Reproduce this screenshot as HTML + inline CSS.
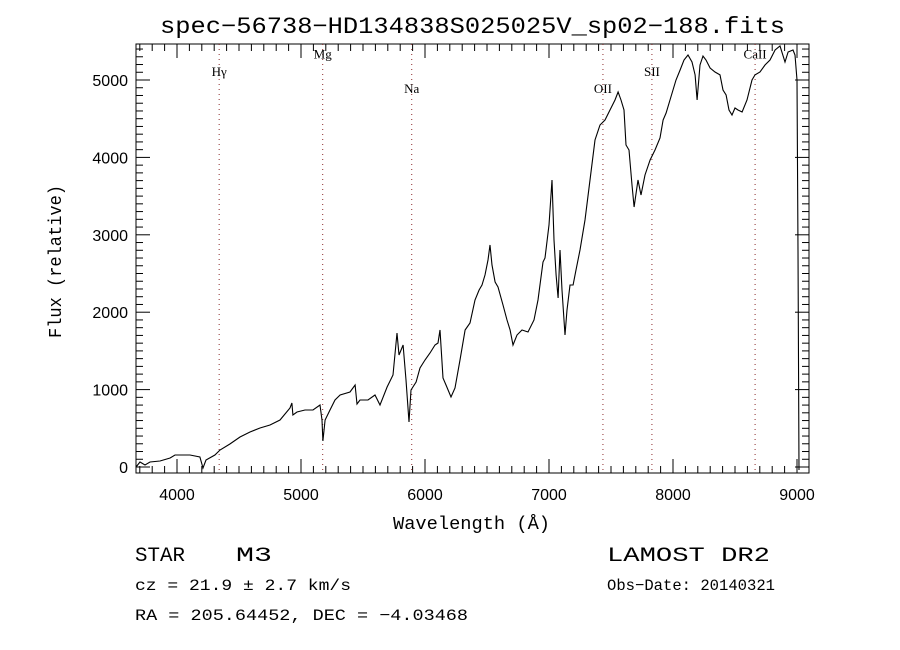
<!DOCTYPE html>
<html><head><meta charset="utf-8"><style>
body{margin:0;background:#fff;}
svg{display:block;}
.s{font-family:"Liberation Serif",serif;}
.m{font-family:"Liberation Mono",monospace;}
.t{font-family:"Liberation Sans",sans-serif;}
</style></head><body>
<svg id="c" width="900" height="650">
<text class="m" x="160" y="33" textLength="625" lengthAdjust="spacingAndGlyphs" font-size="23">spec−56738−HD134838S025025V_sp02−188.fits</text>
<rect x="136" y="44" width="673" height="429" fill="none" stroke="#000" stroke-width="1"/>
<g id="ticks"></g>
<g id="lines"></g>
<text class="m" x="393" y="529" textLength="157" lengthAdjust="spacingAndGlyphs" font-size="18">Wavelength (Å)</text>
<text class="m" transform="translate(61,338) rotate(-90)" textLength="153" lengthAdjust="spacingAndGlyphs" font-size="18">Flux (relative)</text>
<text class="m" x="135" y="561" textLength="50" lengthAdjust="spacingAndGlyphs" font-size="20">STAR</text>
<text class="m" x="236" y="561" textLength="36" lengthAdjust="spacingAndGlyphs" font-size="20">M3</text>
<text class="m" x="607" y="561" textLength="163" lengthAdjust="spacingAndGlyphs" font-size="20">LAMOST DR2</text>
<text class="m" x="135" y="590" textLength="216" lengthAdjust="spacingAndGlyphs" font-size="16">cz = 21.9 ± 2.7 km/s</text>
<text class="m" x="607" y="590" textLength="168" lengthAdjust="spacingAndGlyphs" font-size="16">Obs−Date: 20140321</text>
<text class="m" x="135" y="620" textLength="333" lengthAdjust="spacingAndGlyphs" font-size="16">RA = 205.64452, DEC =  −4.03468</text>
</svg>
<script>
const wavelengths=[3669,3702,3742,3782,3863,3944,3984,4024,4105,4185,4210,4234,4306,4347,4427,4508,4589,4669,4750,4831,4911,4927,4935,4968,5032,5097,5153,5169,5177,5194,5234,5274,5315,5395,5436,5452,5476,5540,5597,5637,5694,5742,5774,5790,5823,5847,5871,5887,5928,5960,6000,6040,6081,6105,6121,6145,6169,6210,6242,6282,6323,6363,6403,6436,6460,6484,6508,6524,6540,6565,6589,6629,6661,6686,6710,6742,6782,6831,6879,6911,6952,6968,7000,7024,7040,7057,7073,7089,7105,7129,7145,7169,7194,7218,7250,7290,7331,7371,7411,7452,7492,7532,7557,7581,7605,7621,7645,7669,7686,7694,7718,7742,7774,7815,7855,7895,7920,7944,7976,8024,8057,8089,8121,8153,8178,8194,8218,8242,8266,8299,8339,8379,8403,8428,8452,8476,8500,8524,8557,8597,8637,8661,8702,8742,8782,8823,8863,8903,8928,8968,8984,9000,9008,9016];
const fluxValues=[0,65,26,65,78,116,155,155,155,129,-13,90,155,220,297,388,452,504,543,607,762,827,672,711,736,736,801,607,336,607,736,866,930,969,1059,814,866,866,930,801,1034,1189,1731,1447,1576,1124,581,995,1098,1279,1382,1473,1576,1602,1770,1150,1059,904,1021,1382,1770,1860,2158,2287,2351,2481,2674,2868,2610,2390,2326,2093,1899,1770,1576,1705,1770,1744,1899,2158,2649,2700,3127,3708,2933,2481,2183,2804,2287,1705,2028,2351,2351,2545,2804,3191,3708,4225,4419,4483,4612,4742,4845,4742,4612,4160,4096,3643,3359,3450,3708,3514,3773,3966,4096,4251,4483,4574,4742,5000,5129,5258,5323,5233,5066,4742,5194,5310,5258,5155,5103,5066,4871,4806,4612,4548,4638,4612,4587,4742,5000,5066,5103,5194,5258,5388,5439,5233,5362,5388,5323,5000,2804,-39];
const xTickLabels=[4000,5000,6000,7000,8000,9000];
const yTickLabels=[0,1000,2000,3000,4000,5000];
const lineNames=["Hγ","Mg","Na","OII","SII","CaII"];
const lineWaves=[4340,5175,5893,7435,7830,8662];
const lineLabelFlux=[5050,5280,4830,4830,5050,5280];

const NS="http://www.w3.org/2000/svg";
const X0=136,X1=809,Y0=44,Y1=473;
function xs(w){return 177+(w-4000)*0.124;}
function ys(f){return 467-f*0.0774;}
const wMin=(X0-177)/0.124+4000, wMax=(X1-177)/0.124+4000;
const fMax=(467-Y0)/0.0774, fMin=(467-Y1)/0.0774;
function mk(tag,attrs,parent){const e=document.createElementNS(NS,tag);for(const k in attrs)e.setAttribute(k,attrs[k]);parent.appendChild(e);return e;}
const tg=document.getElementById('ticks');
for(let w=Math.ceil(wMin/100)*100;w<=wMax;w+=100){
  const major=w%1000===0,L=major?14:7,x=xs(w);
  const a=mk('line',{x1:x,x2:x,y1:Y1,y2:Y1-L,stroke:'#000'},tg);
  
  
  const b=mk('line',{x1:x,x2:x,y1:Y0,y2:Y0+L,stroke:'#000'},tg);
  
  
}
for(let f=Math.ceil(fMin/100)*100;f<=fMax;f+=100){
  const major=f%1000===0,L=major?14:7,y=ys(f);
  const a=mk('line',{x1:X0,x2:X0+L,y1:y,y2:y,stroke:'#000'},tg);
  
  
  const b=mk('line',{x1:X1,x2:X1-L,y1:y,y2:y,stroke:'#000'},tg);
  
  
}
xTickLabels.forEach(v=>{
  const t=mk('text',{x:xs(v),y:500,'text-anchor':'middle','font-size':16,class:'t'},tg);
  t.textContent=v;
  
  
});
yTickLabels.forEach(v=>{
  const t=mk('text',{x:128,y:ys(v)+6,'text-anchor':'end','font-size':16,class:'t'},tg);
  t.textContent=v;
  
  
});
const lg=document.getElementById('lines');
lineWaves.forEach((w,i)=>{
  const x=xs(w);
  const l=mk('line',{x1:x,x2:x,y1:Y0,y2:Y1,stroke:'#8b2a2a','stroke-width':1,'stroke-dasharray':'1,4'},lg);
  
  
  const t=mk('text',{x:x,y:ys(lineLabelFlux[i]),'text-anchor':'middle','font-size':13,class:'s'},lg);
  t.textContent=lineNames[i];
  
  
});
let d='';
wavelengths.forEach((w,i)=>{
  const y=Math.min(Y1,Math.max(Y0,ys(fluxValues[i])));
  d+=(i?'L':'M')+xs(w).toFixed(1)+','+y.toFixed(1);
});
const p=mk('path',{d:d,fill:'none',stroke:'#000','stroke-width':1.1},lg);


</script>
</body></html>
